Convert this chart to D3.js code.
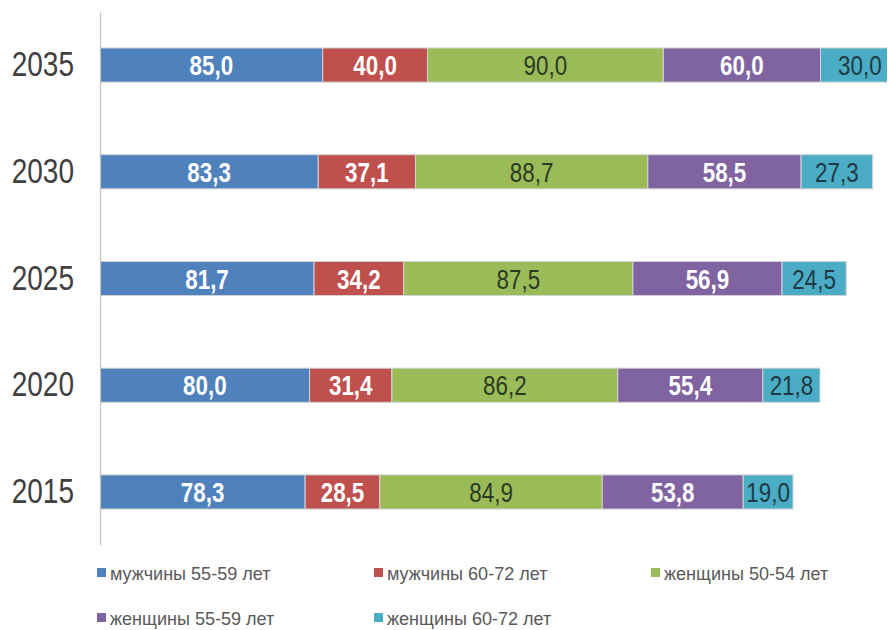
<!DOCTYPE html>
<html><head><meta charset="utf-8">
<script src="https://cdn.jsdelivr.net/npm/d3@7"></script>
<style>body{margin:0;background:#fff}svg{display:block}</style>
</head><body>
<script>
const years = ["2035","2030","2025","2020","2015"];
const seriesNames = ["мужчины 55-59 лет","мужчины 60-72 лет","женщины 50-54 лет","женщины 55-59 лет","женщины 60-72 лет"];
const men5559   = [85.0, 83.3, 81.7, 80.0, 78.3];
const men6072   = [40.0, 37.1, 34.2, 31.4, 28.5];
const women5054 = [90.0, 88.7, 87.5, 86.2, 84.9];
const women5559 = [60.0, 58.5, 56.9, 55.4, 53.8];
const women6072 = [30.0, 27.3, 24.5, 21.8, 19.0];
const seriesValues = [men5559, men6072, women5054, women5559, women6072];
const colors = ["#4F81BD","#C0504D","#9BBB59","#8064A2","#4BACC6"];
const labelBold = [true, true, false, true, false];
const labelColor = ["#ffffff","#ffffff","#2b3a22","#ffffff","#1f3a44"];

const W = 888, H = 630;
const svg = d3.select("body").append("svg").attr("width", W).attr("height", H);
const font = "'Liberation Sans',Arial,sans-serif";

const x = d3.scaleLinear().domain([0, 300]).range([100, 886]);
const y = d3.scaleBand().domain(years).range([12, 545]).paddingInner(0.68).paddingOuter(0.337);

svg.append("defs").append("clipPath").attr("id","plot")
  .append("rect").attr("x",100).attr("y",0).attr("width",787).attr("height",H);

const rows = years.map((yr, i) => {
  let acc = 0;
  return seriesValues.map((arr, s) => {
    const v = arr[i];
    const seg = {year: yr, s, v, x0: acc, x1: acc + v};
    acc += v;
    return seg;
  });
}).flat();

const g = svg.append("g").attr("clip-path","url(#plot)");
g.selectAll("rect.seg").data(rows).join("rect")
  .attr("class","seg")
  .attr("x", d => x(d.x0))
  .attr("y", d => y(d.year))
  .attr("width", d => x(d.x1) - x(d.x0))
  .attr("height", y.bandwidth())
  .attr("fill", d => colors[d.s])
  .attr("stroke", "#d4d4d4")
  .attr("stroke-width", 1);

svg.selectAll("text.val").data(rows).join("text")
  .attr("class","val")
  .attr("transform", d => `translate(${(x(d.x0) + x(d.x1)) / 2},${y(d.year) + y.bandwidth()/2}) scale(0.8,1)`)
  .attr("dy", "0.36em")
  .attr("text-anchor","middle")
  .attr("font-family", font)
  .attr("font-size", 28)
  .attr("font-weight", d => labelBold[d.s] ? "bold" : "normal")
  .attr("fill", d => labelColor[d.s])
  .text(d => d.v.toFixed(1).replace(".", ","));

const axis = d3.axisLeft(y).tickSize(0).tickPadding(26);
const ag = svg.append("g").attr("transform","translate(100,0)").call(axis);
ag.select(".domain").attr("stroke","#bfbfbf").attr("stroke-width",1.2);
ag.selectAll(".tick text")
  .attr("x", -26 / 0.8)
  .attr("transform", "scale(0.8,1)")
  .attr("font-family", font).attr("font-size", 35).attr("fill","#404040");

const legend = svg.append("g");
const lx = [97, 374, 651], ly = [573, 618];
const li = legend.selectAll("g").data(seriesNames).join("g")
  .attr("transform", (d, i) => `translate(${lx[i % 3]},${ly[Math.floor(i / 3)]})`);
li.append("rect").attr("x",0).attr("y",-5).attr("width",9).attr("height",9)
  .attr("fill", (d, i) => colors[i]);
li.append("text").attr("transform","translate(13,0) scale(0.95,1)").attr("dy","0.36em")
  .attr("font-family", font).attr("font-size", 19).attr("fill","#595959")
  .text(d => d);
</script>
</body></html>
